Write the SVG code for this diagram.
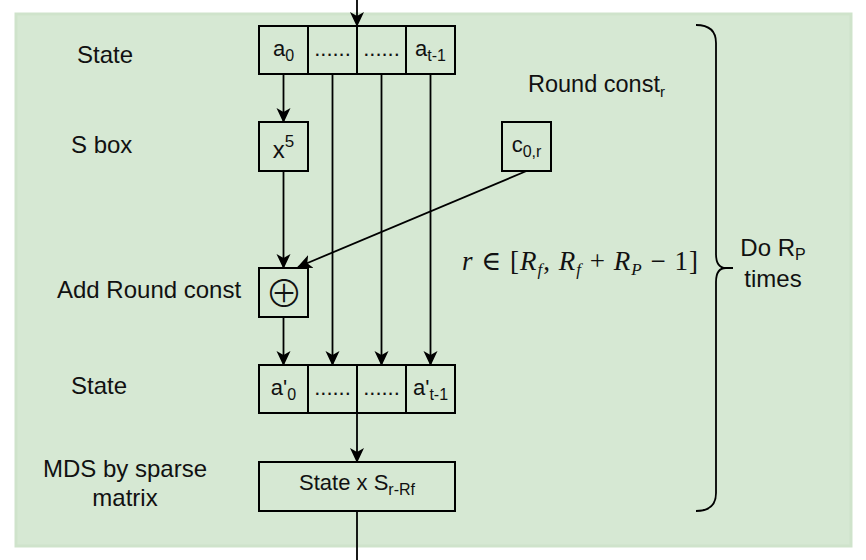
<svg xmlns="http://www.w3.org/2000/svg" width="866" height="560" viewBox="0 0 866 560">
<defs>
<marker id="arr" markerUnits="userSpaceOnUse" markerWidth="15" markerHeight="15" refX="14" refY="7.5" orient="auto" viewBox="0 0 15 15"><path d="M0,0.5 L15,7.5 L0,14.5 L4,7.5 Z" fill="#000"/></marker>
<style>
.lbl{font-family:"Liberation Sans",Arial,sans-serif;font-size:24px;fill:#111}
.cell{font-family:"Liberation Sans",Arial,sans-serif;font-size:22px;fill:#111;text-anchor:middle}
.box{fill:none;stroke:#000;stroke-width:2}
.ln{fill:none;stroke:#000;stroke-width:1.8}
.math{font-family:"Liberation Serif","DejaVu Serif",serif;font-size:27px;fill:#111}
</style>
</defs>
<rect x="16" y="14" width="835" height="532" fill="#d6e8d3" stroke="#cfe3cb" stroke-width="3"/>

<g id="labels">
<text class="lbl" x="77" y="63">State</text>
<text class="lbl" x="71" y="153">S box</text>
<text class="lbl" x="57" y="298">Add Round const</text>
<text class="lbl" x="71" y="394">State</text>
<text class="lbl" x="125" y="477" text-anchor="middle">MDS by sparse</text>
<text class="lbl" x="125" y="506" text-anchor="middle">matrix</text>
<text class="lbl" x="528" y="92" style="font-size:23.5px">Round const<tspan dy="5" style="font-size:15px">r</tspan></text>
<text class="lbl" x="773" y="256" text-anchor="middle">Do R<tspan dy="4" style="font-size:16px">P</tspan></text>
<text class="lbl" x="773" y="287" text-anchor="middle">times</text>
<text class="math" x="462" y="270" textLength="236" lengthAdjust="spacing"><tspan font-style="italic">r</tspan> ∈ [<tspan font-style="italic">R</tspan><tspan font-style="italic" font-size="17" dy="5">f</tspan><tspan dy="-5">, </tspan><tspan font-style="italic">R</tspan><tspan font-style="italic" font-size="17" dy="5">f</tspan><tspan dy="-5"> + </tspan><tspan font-style="italic">R</tspan><tspan font-style="italic" font-size="17" dy="5">P</tspan><tspan dy="-5"> − 1]</tspan></text>
</g>

<g id="state-in">
<rect class="box" x="259" y="26" width="49" height="48"/>
<rect class="box" x="308" y="26" width="49" height="48"/>
<rect class="box" x="357" y="26" width="49" height="48"/>
<rect class="box" x="406" y="26" width="49" height="48"/>
<text class="cell" x="283.5" y="56">a<tspan dy="5" style="font-size:16px">0</tspan></text>
<text class="cell" x="332.5" y="56">......</text>
<text class="cell" x="381.5" y="56">......</text>
<text class="cell" x="430.5" y="56">a<tspan dy="5" style="font-size:16px">t-1</tspan></text>
</g>

<g id="sbox">
<rect class="box" x="259" y="122" width="49" height="49"/>
<text class="cell" x="283.5" y="158" style="font-size:24px">x<tspan dy="-11" style="font-size:17px">5</tspan></text>
</g>

<g id="const">
<rect class="box" x="502" y="122" width="49" height="49"/>
<text class="cell" x="526.5" y="152">c<tspan dy="5" style="font-size:16px">0,r</tspan></text>
</g>

<g id="add">
<rect class="box" x="259" y="268" width="49" height="49"/>
<text x="284" y="307" text-anchor="middle" style="font-family:'Noto Sans CJK SC','DejaVu Sans',sans-serif;font-weight:300;font-size:38px;fill:#111">⊕</text>
</g>

<g id="state-out">
<rect class="box" x="259" y="365" width="49" height="48"/>
<rect class="box" x="308" y="365" width="49" height="48"/>
<rect class="box" x="357" y="365" width="49" height="48"/>
<rect class="box" x="406" y="365" width="49" height="48"/>
<text class="cell" x="283.5" y="395">a'<tspan dy="5" style="font-size:16px">0</tspan></text>
<text class="cell" x="332.5" y="395">......</text>
<text class="cell" x="381.5" y="395">......</text>
<text class="cell" x="430.5" y="395">a'<tspan dy="5" style="font-size:16px">t-1</tspan></text>
</g>

<g id="mds">
<rect class="box" x="259" y="462" width="196" height="49"/>
<text class="cell" x="357" y="490">State x S<tspan dy="5" style="font-size:16px">r-Rf</tspan></text>
</g>

<g id="brace">
<path class="ln" d="M696,25 Q716,25 716,43 L716,254 Q716,268 726,268 L733,268 M726,268 Q716,268 716,282 L716,493 Q716,511 696,511"/>
</g>

<g id="connectors">
<path class="ln" d="M357,0 V26" marker-end="url(#arr)"/>
<path class="ln" d="M283.5,74 V122" marker-end="url(#arr)"/>
<path class="ln" d="M332.5,74 V365" marker-end="url(#arr)"/>
<path class="ln" d="M381.5,74 V365" marker-end="url(#arr)"/>
<path class="ln" d="M430.5,74 V365" marker-end="url(#arr)"/>
<path class="ln" d="M283.5,171 V268" marker-end="url(#arr)"/>
<path class="ln" d="M526.5,171 L298,267" marker-end="url(#arr)"/>
<path class="ln" d="M283.5,317 V365" marker-end="url(#arr)"/>
<path class="ln" d="M357,413 V462" marker-end="url(#arr)"/>
<path class="ln" d="M357,511 V560"/>
</g>
</svg>
